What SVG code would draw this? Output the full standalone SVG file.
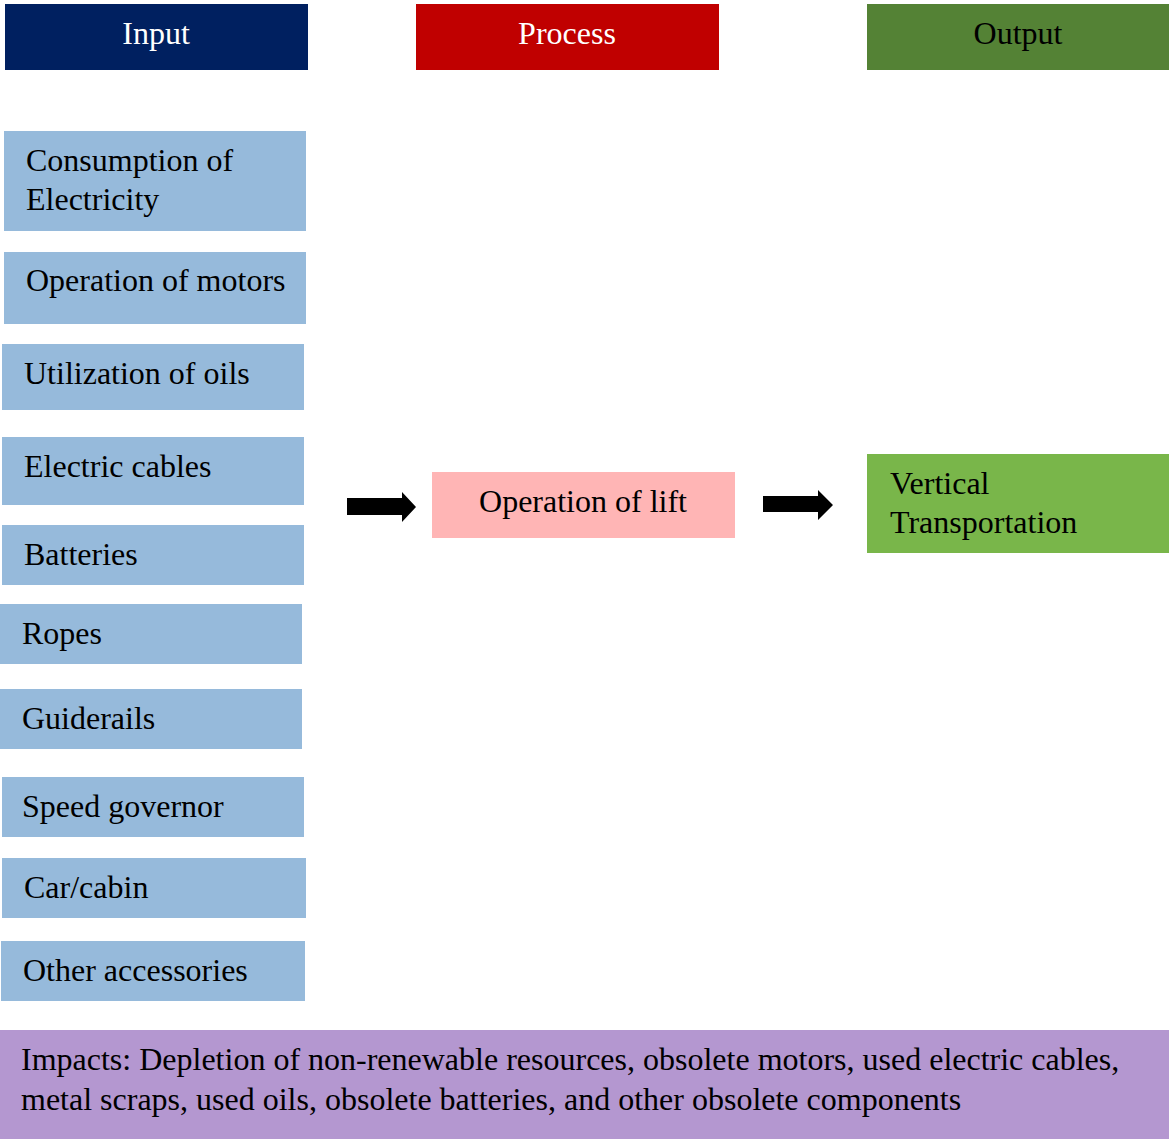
<svg xmlns="http://www.w3.org/2000/svg" width="1169" height="1139" viewBox="0 0 1169 1139">
<style>
text{font-family:"Liberation Serif","Times New Roman",serif;font-size:32px;fill:#000}
.hd{fill:#fff;text-anchor:middle}
.in{fill:#96BADB}
</style>
<rect width="1169" height="1139" fill="#fff"/>
<g id="hdr-input"><rect x="5" y="4" width="303" height="66" fill="#002060"/><text class="hd" x="156" y="44">Input</text></g>
<g id="hdr-process"><rect x="416" y="4" width="303" height="66" fill="#C00000"/><text class="hd" x="567" y="44">Process</text></g>
<g id="hdr-output"><rect x="867" y="4" width="302" height="66" fill="#548235"/><text class="hd" x="1018" y="44" style="fill:#000">Output</text></g>
<g id="in1"><rect class="in" x="4" y="131" width="302" height="100"/><text x="26" y="171">Consumption of</text><text x="26" y="210">Electricity</text></g>
<g id="in2"><rect class="in" x="4" y="252" width="302" height="72"/><text x="26" y="291">Operation of motors</text></g>
<g id="in3"><rect class="in" x="2" y="344" width="302" height="66"/><text x="24" y="384">Utilization of oils</text></g>
<g id="in4"><rect class="in" x="2" y="437" width="302" height="68"/><text x="24" y="477">Electric cables</text></g>
<g id="in5"><rect class="in" x="2" y="525" width="302" height="60"/><text x="24" y="565">Batteries</text></g>
<g id="in6"><rect class="in" x="0" y="604" width="302" height="60"/><text x="22" y="644">Ropes</text></g>
<g id="in7"><rect class="in" x="0" y="689" width="302" height="60"/><text x="22" y="729">Guiderails</text></g>
<g id="in8"><rect class="in" x="2" y="777" width="302" height="60"/><text x="22" y="817">Speed governor</text></g>
<g id="in9"><rect class="in" x="2" y="858" width="304" height="60"/><text x="24" y="898">Car/cabin</text></g>
<g id="in10"><rect class="in" x="1" y="941" width="304" height="60"/><text x="23" y="981">Other accessories</text></g>
<g id="process"><rect x="432" y="472" width="303" height="66" fill="#FFB5B5"/><text x="583" y="512" text-anchor="middle">Operation of lift</text></g>
<g id="output"><rect x="867" y="454" width="302" height="99" fill="#79B64A"/><text x="890" y="494">Vertical</text><text x="890" y="533">Transportation</text></g>
<g id="impacts"><rect x="0" y="1030" width="1169" height="109" fill="#B497D0"/><text x="21" y="1070">Impacts: Depletion of non-renewable resources, obsolete motors, used electric cables,</text><text x="21" y="1110">metal scraps, used oils, obsolete batteries, and other obsolete components</text></g>
<g id="connectors" fill="#000">
<polygon points="347,498 402,498 402,492 416,507 402,522 402,515 347,515"/>
<polygon points="763,496 818,496 818,490 833,505 818,520 818,512 763,512"/>
</g>
</svg>
